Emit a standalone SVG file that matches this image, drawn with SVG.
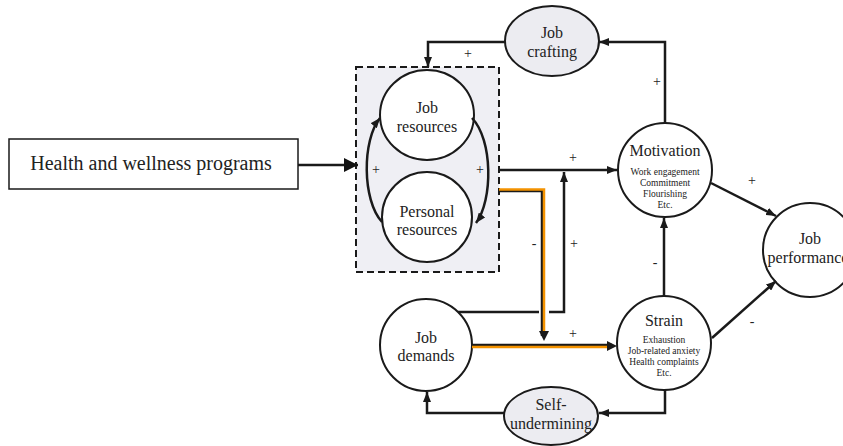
<svg xmlns="http://www.w3.org/2000/svg" width="843" height="446" viewBox="0 0 843 446">
  <style>
    text { font-family: "Liberation Serif", "DejaVu Serif", "Times New Roman", serif; }
    .lbl { fill: #222; text-anchor: middle; }
    .big { font-size: 16px; }
    .small { font-size: 9.5px; }
    .sign { font-size: 14px; fill: #222; text-anchor: middle; }
    .node { stroke: #1a1a1a; stroke-width: 2; fill: #ffffff; }
    .grey { fill: #ececf1; }
    .wire { fill: none; stroke: #1a1a1a; stroke-width: 2.5; }
    .amber { fill: none; stroke: #f39200; stroke-width: 2.5; }
  </style>
  <defs>
    <marker id="arr" viewBox="0 0 10 8" refX="10" refY="4" markerWidth="10" markerHeight="8" markerUnits="userSpaceOnUse" orient="auto">
      <path d="M0,0 L10,4 L0,8 z" fill="#1a1a1a"/>
    </marker>
    <marker id="arrBig" viewBox="0 0 14 14" refX="14" refY="7" markerWidth="14" markerHeight="14" markerUnits="userSpaceOnUse" orient="auto">
      <path d="M0,0 L14,7 L0,14 z" fill="#111"/>
    </marker>
  </defs>

  <!-- resource box -->
  <g id="resource-box">
    <rect x="356" y="67" width="143" height="205" fill="#efeff4" stroke="#1a1a1a" stroke-width="2" stroke-dasharray="7,4"/>
  </g>

  <g id="health-programs">
    <rect x="9" y="139" width="289" height="50" fill="#fff" stroke="#1a1a1a" stroke-width="1.5"/>
    <text class="lbl" x="151" y="170" style="font-size:20px">Health and wellness programs</text>
  </g>

  <g id="job-resources">
    <ellipse class="node" cx="427" cy="115" rx="47" ry="45"/>
    <text class="lbl big" x="427" y="113">Job</text>
    <text class="lbl big" x="427" y="132">resources</text>
  </g>

  <g id="personal-resources">
    <ellipse class="node" cx="427" cy="217" rx="45" ry="45"/>
    <text class="lbl big" x="427" y="217">Personal</text>
    <text class="lbl big" x="427" y="235">resources</text>
  </g>

  <g id="job-crafting">
    <ellipse class="node grey" cx="552" cy="41" rx="47" ry="35"/>
    <text class="lbl big" x="552" y="38">Job</text>
    <text class="lbl big" x="552" y="57">crafting</text>
  </g>

  <g id="motivation">
    <circle class="node" cx="665" cy="170" r="47"/>
    <text class="lbl big" x="665" y="156">Motivation</text>
    <text class="lbl small" x="665" y="175">Work engagement</text>
    <text class="lbl small" x="665" y="186">Commitment</text>
    <text class="lbl small" x="665" y="197">Flourishing</text>
    <text class="lbl small" x="665" y="208">Etc.</text>
  </g>

  <g id="strain">
    <circle class="node" cx="664" cy="343" r="47"/>
    <text class="lbl big" x="664" y="326">Strain</text>
    <text class="lbl small" x="664" y="343">Exhaustion</text>
    <text class="lbl small" x="664" y="354">Job-related anxiety</text>
    <text class="lbl small" x="664" y="365">Health complaints</text>
    <text class="lbl small" x="664" y="376">Etc.</text>
  </g>

  <g id="job-demands">
    <circle class="node" cx="426" cy="345" r="46"/>
    <text class="lbl big" x="426" y="343">Job</text>
    <text class="lbl big" x="426" y="361">demands</text>
  </g>

  <g id="self-undermining">
    <ellipse class="node grey" cx="551" cy="416" rx="47" ry="29"/>
    <text class="lbl big" x="551" y="410">Self-</text>
    <text class="lbl big" x="551" y="429">undermining</text>
  </g>

  <g id="job-performance">
    <circle class="node" cx="810" cy="250" r="47"/>
    <text class="lbl big" x="810" y="244">Job</text>
    <text class="lbl big" x="808" y="263">performance</text>
  </g>

  <g id="connectors">
    <!-- programs into the resource box -->
    <path class="wire" d="M298,165 H358" marker-end="url(#arrBig)"/>
    <!-- reciprocal resource loops -->
    <path class="wire" d="M382,222 C362,200 362,140 380,118" stroke-width="2.2" marker-end="url(#arr)"/>
    <path class="wire" d="M472,118 C493,140 493,200 476,223" stroke-width="2.2" marker-end="url(#arr)"/>
    <!-- job crafting feedback -->
    <path class="wire" d="M505,42 H428 V67" marker-end="url(#arr)"/>
    <path class="wire" d="M665,123 V42 H599" marker-end="url(#arr)"/>
    <!-- resources to motivation -->
    <path class="wire" d="M499,170 H617" marker-end="url(#arr)"/>
    <!-- resources buffering demands -->
    <path class="wire" d="M499,191 H542 V336"/>
    <path class="amber" d="M499,189.5 H544 V334"/>
    <path d="M539,331 L544,341 L549,331 z" fill="#1a1a1a"/>
    <!-- demands boosting motivation -->
    <path class="wire" d="M458,312 H539" stroke="#2a2a2a" stroke-width="3"/>
    <path class="wire" d="M549,312 H564 V172" marker-end="url(#arr)"/>
    <!-- demands to strain -->
    <path class="wire" d="M472,345 H612"/>
    <path class="amber" d="M472,347 H610"/>
    <path d="M607,341 L617,346 L607,351 z" fill="#1a1a1a"/>
    <!-- strain lowering motivation -->
    <path class="wire" d="M664,296 V218" marker-end="url(#arr)"/>
    <!-- outcomes to performance -->
    <path class="wire" d="M711,183 L776,216" marker-end="url(#arr)"/>
    <path class="wire" d="M712,338 L776,281" marker-end="url(#arr)"/>
    <!-- self-undermining loop -->
    <path class="wire" d="M665,390 V413 H599" marker-end="url(#arr)"/>
    <path class="wire" d="M505,413 H427 V392" marker-end="url(#arr)"/>
  </g>

  <g id="signs">
    <text class="sign" x="468" y="58">+</text>
    <text class="sign" x="657" y="86">+</text>
    <text class="sign" x="376" y="174">+</text>
    <text class="sign" x="480" y="174">+</text>
    <text class="sign" x="573" y="162">+</text>
    <text class="sign" x="574" y="248">+</text>
    <text class="sign" x="573" y="338">+</text>
    <text class="sign" x="752" y="185">+</text>
    <text class="sign" x="534" y="248">-</text>
    <text class="sign" x="655" y="267">-</text>
    <text class="sign" x="752" y="326">-</text>
  </g>
</svg>
